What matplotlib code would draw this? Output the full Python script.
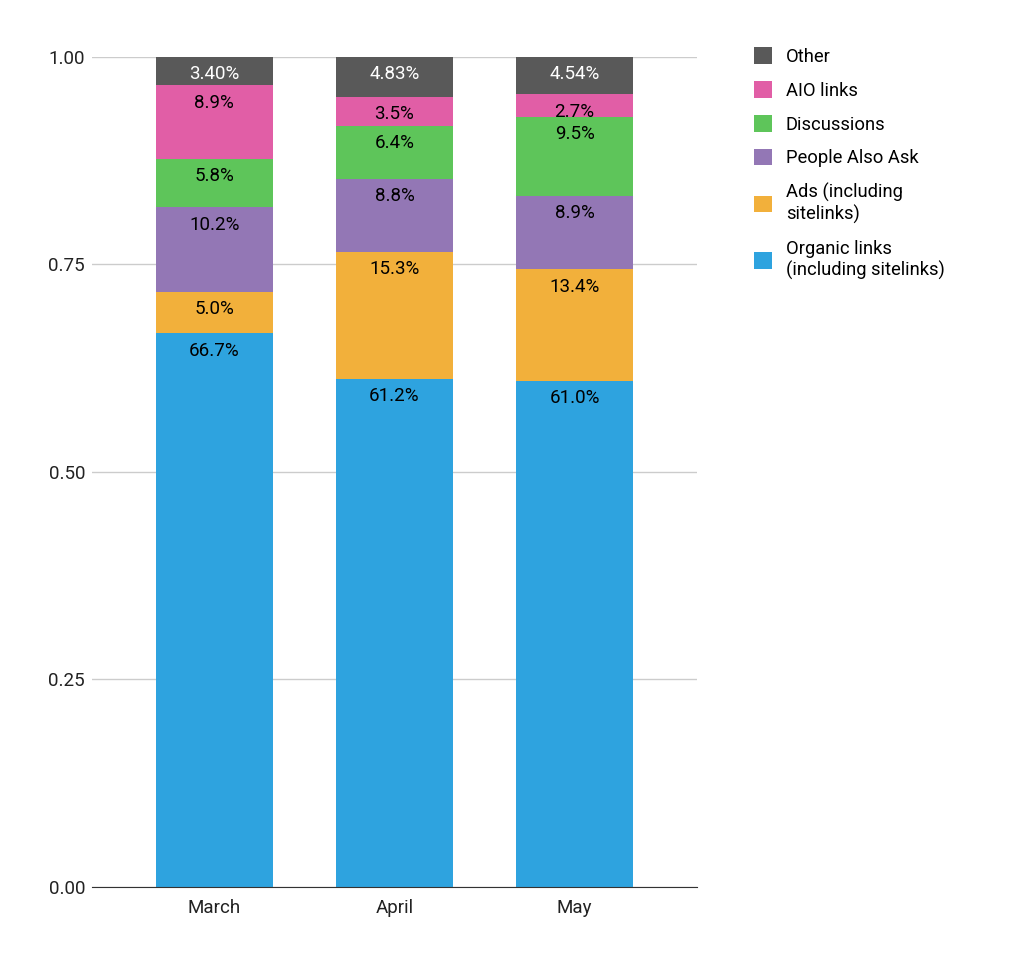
import numpy as np
import matplotlib.pyplot as plt
from matplotlib.patches import Patch

plt.rcParams["font.family"] = ["Roboto", "DejaVu Sans"]

months = ["March", "April", "May"]
series = ["Organic links\n(including sitelinks)", "Ads (including\nsitelinks)",
          "People Also Ask", "Discussions", "AIO links", "Other"]
organic = [66.7, 61.2, 61.0]
ads = [5.0, 15.3, 13.4]
paa = [10.2, 8.8, 8.9]
discussions = [5.8, 6.4, 9.5]
aio = [8.9, 3.5, 2.7]
other = [3.40, 4.83, 4.54]
other_labels = ["3.40%", "4.83%", "4.54%"]
colors = ["#2ea3df", "#f2b03b", "#9377b5", "#5ec55a", "#e15ea6", "#595959"]


def main():
    fig = plt.figure(figsize=(10.24, 9.64), dpi=100)
    ax = fig.add_axes([0.0898, 0.0799, 0.591, 0.861])
    x = np.arange(len(months))
    data = [organic, ads, paa, discussions, aio, other]
    bottom = np.zeros(len(months))
    for i, vals in enumerate(data):
        v = np.array(vals) / 100.0
        ax.bar(x, v, width=0.65, bottom=bottom, color=colors[i], zorder=3)
        for j in range(len(months)):
            top = bottom[j] + v[j]
            if i == 5:
                txt, tc = other_labels[j], "white"
                top = min(top, 1.0)
            else:
                txt, tc = "%.1f%%" % vals[j], "black"
            ax.annotate(txt, (x[j], top), xytext=(0, -6), textcoords="offset points",
                        ha="center", va="top", fontsize=13.5, color=tc, zorder=4)
        bottom += v

    ax.set_xlim(-0.68, 2.68)
    ax.set_ylim(0, 1.0)
    ax.set_yticks([0, 0.25, 0.5, 0.75, 1.0])
    ax.set_yticklabels(["0.00", "0.25", "0.50", "0.75", "1.00"])
    ax.set_xticks(x)
    ax.set_xticklabels(months)
    ax.tick_params(axis="both", length=0, labelsize=13.5, colors="#222222")
    ax.tick_params(axis="y", pad=5)
    ax.tick_params(axis="x", pad=9)
    ax.grid(axis="y", color="#cccccc", linewidth=1, zorder=0)
    for s in ["top", "right", "left"]:
        ax.spines[s].set_visible(False)
    ax.spines["bottom"].set_color("#333333")
    ax.spines["bottom"].set_zorder(5)

    handles = [Patch(facecolor=colors[i], label=series[i]) for i in range(6)][::-1]
    fig.legend(handles=handles, loc="upper left", bbox_to_anchor=(0.72, 0.968),
               frameon=False, fontsize=13.2, handlelength=1.0, handleheight=1.0,
               handletextpad=0.75, labelspacing=0.84)

    fig.savefig("out.png", dpi=100)


if __name__ == "__main__":
    main()
